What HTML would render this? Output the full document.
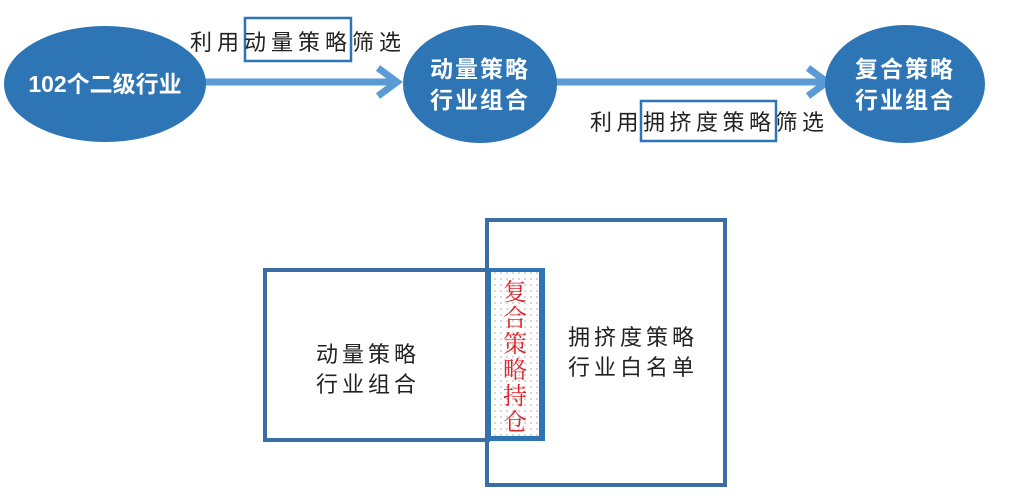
<!DOCTYPE html>
<html><head><meta charset="utf-8"><style>
html,body{margin:0;padding:0;background:#fff;}
body{width:1023px;height:495px;overflow:hidden;position:relative;}
svg text{font-family:"Liberation Sans","Noto Sans CJK SC",sans-serif;}
</style></head><body>
<svg width="1023" height="495" viewBox="0 0 1023 495">
<defs>
<pattern id="dots" width="6" height="6" patternUnits="userSpaceOnUse">
<rect width="6" height="6" fill="#fff"/><circle cx="3" cy="3" r="0.8" fill="#aaa"/>
</pattern>
</defs>
<line x1="200" y1="82" x2="395" y2="82" stroke="#5b9bd5" stroke-width="7"/>
<polyline points="378,68 397,82 378,96" fill="none" stroke="#5b9bd5" stroke-width="7"/>
<line x1="550" y1="82" x2="828" y2="82" stroke="#5b9bd5" stroke-width="7"/>
<polyline points="808,68 827,82 808,96" fill="none" stroke="#5b9bd5" stroke-width="7"/>
<ellipse cx="105" cy="84" rx="101" ry="58" fill="#2e75b6"/>
<ellipse cx="480" cy="84" rx="77" ry="59" fill="#2e75b6"/>
<ellipse cx="905" cy="84" rx="80" ry="59" fill="#2e75b6"/>
<text x="105" y="92" fill="#fff" font-size="23" text-anchor="middle" font-weight="bold">102个二级行业</text>
<text x="480" y="77" fill="#fff" font-size="23" text-anchor="middle" font-weight="bold" letter-spacing="2">动量策略</text>
<text x="480" y="108" fill="#fff" font-size="23" text-anchor="middle" font-weight="bold" letter-spacing="2">行业组合</text>
<text x="905" y="77" fill="#fff" font-size="23" text-anchor="middle" font-weight="bold" letter-spacing="2">复合策略</text>
<text x="905" y="108" fill="#fff" font-size="23" text-anchor="middle" font-weight="bold" letter-spacing="2">行业组合</text>
<rect x="245" y="18" width="106" height="43" fill="none" stroke="#2e75b6" stroke-width="2.5"/>
<text x="190" y="50" font-size="22" fill="#222" letter-spacing="5">利用动量策略筛选</text>
<rect x="641" y="101" width="135" height="40" fill="none" stroke="#2e75b6" stroke-width="2.5"/>
<text x="590" y="130" font-size="22" fill="#222" letter-spacing="4.5">利用拥挤度策略筛选</text>
<rect x="487" y="220" width="238" height="265" fill="none" stroke="#3a6ea5" stroke-width="4"/>
<rect x="265" y="270" width="223" height="170" fill="none" stroke="#3a6ea5" stroke-width="4"/>
<rect x="487" y="268" width="58" height="173" fill="#2e75b6"/>
<rect x="491" y="272" width="48" height="164" fill="url(#dots)"/>
<g font-size="24" fill="#d9262b" text-anchor="middle">
<text x="515" y="300" style="font-family:'Noto Serif CJK SC',serif">复</text>
<text x="515" y="326" style="font-family:'Noto Serif CJK SC',serif">合</text>
<text x="515" y="352" style="font-family:'Noto Serif CJK SC',serif">策</text>
<text x="515" y="378" style="font-family:'Noto Serif CJK SC',serif">略</text>
<text x="515" y="404" style="font-family:'Noto Serif CJK SC',serif">持</text>
<text x="515" y="430" style="font-family:'Noto Serif CJK SC',serif">仓</text>
</g>
<text x="368" y="362" font-size="22" fill="#222" text-anchor="middle" letter-spacing="4">动量策略</text>
<text x="368" y="392" font-size="22" fill="#222" text-anchor="middle" letter-spacing="4">行业组合</text>
<text x="633" y="345" font-size="22" fill="#222" text-anchor="middle" letter-spacing="4">拥挤度策略</text>
<text x="633" y="375" font-size="22" fill="#222" text-anchor="middle" letter-spacing="4">行业白名单</text>
</svg>
</body></html>
